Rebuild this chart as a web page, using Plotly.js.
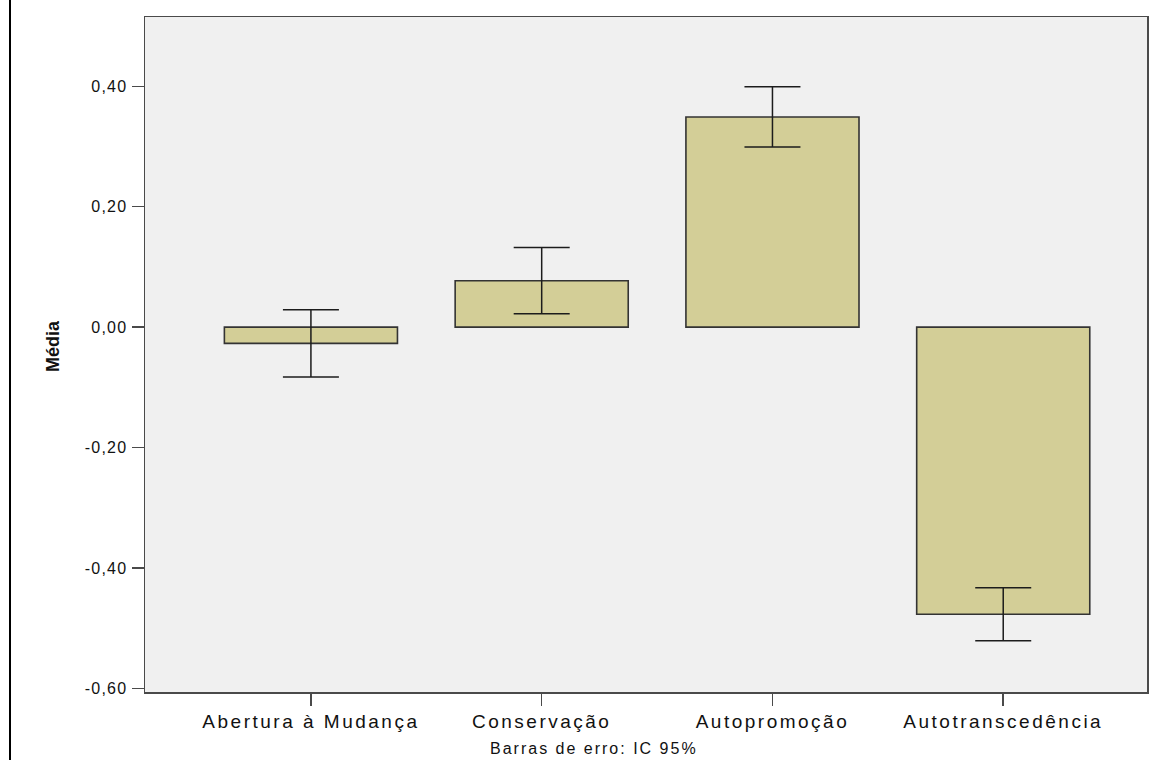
<!DOCTYPE html>
<html>
<head>
<meta charset="utf-8">
<script src="https://cdn.plot.ly/plotly-3.0.1.min.js"></script>
<style>
  html, body { margin: 0; padding: 0; background: #ffffff; }
  #chart { width: 1175px; height: 760px; }
  /* SPSS-style widely spaced axis labels */
  .xtick text { letter-spacing: 2.5px; }
  .ytick text { letter-spacing: 1.2px; }
  .note-text text { letter-spacing: 2px; }
</style>
</head>
<body>
<div id="chart"></div>
<script>
// Value dimensions and their mean scores
const categories = ['Abertura à Mudança', 'Conservação', 'Autopromoção', 'Autotranscedência'];
const means = [-0.027, 0.077, 0.349, -0.477];
// Half-width of the 95% confidence interval
const ciHalf = [0.056, 0.055, 0.050, 0.044];

const yTickVals = [-0.6, -0.4, -0.2, 0.0, 0.2, 0.4];
const yTickText = ['-0,60', '-0,40', '-0,20', '0,00', '0,20', '0,40'];

const trace = {
  type: 'bar',
  x: categories,
  y: means,
  width: 0.75,
  marker: {
    color: '#D3CE97',
    line: { color: '#333333', width: 1.6 }
  },
  error_y: {
    type: 'data',
    array: ciHalf,
    visible: true,
    color: '#1c1c1c',
    thickness: 1.5,
    width: 28
  },
  hoverinfo: 'x+y'
};

const axisLine = { showline: true, mirror: true, linecolor: '#4a4a4a', linewidth: 1.5 };

const layout = {
  width: 1175,
  height: 760,
  margin: { l: 145, r: 28, t: 17, b: 68 },
  paper_bgcolor: '#ffffff',
  plot_bgcolor: '#F0F0F0',
  showlegend: false,
  font: { family: 'Liberation Sans, Arial, sans-serif', color: '#111111' },
  xaxis: Object.assign({
    type: 'category',
    range: [-0.719, 3.623],
    ticks: 'outside',
    ticklen: 12,
    tickwidth: 1.5,
    tickcolor: '#4a4a4a',
    tickfont: { size: 19, color: '#111111' },
    showgrid: false,
    zeroline: false,
    fixedrange: true
  }, axisLine),
  yaxis: Object.assign({
    range: [-0.606, 0.515],
    tickvals: yTickVals,
    ticktext: yTickText,
    ticks: 'outside',
    ticklen: 12,
    tickwidth: 1.5,
    tickcolor: '#4a4a4a',
    tickfont: { size: 16, color: '#111111' },
    ticklabelstandoff: 1,
    showgrid: false,
    zeroline: false,
    fixedrange: true
  }, axisLine),
  annotations: [
    {
      text: '<b>Média</b>',
      xref: 'paper', yref: 'paper',
      x: (53 - 145) / 1002, y: (692 - 346) / 675,
      xanchor: 'center', yanchor: 'middle',
      textangle: -90,
      showarrow: false,
      font: { size: 18, color: '#111111' }
    },
    {
      text: 'Barras de erro: IC 95%',
      xref: 'paper', yref: 'paper',
      x: (594 - 145) / 1002, y: (692 - 748) / 675,
      xanchor: 'center', yanchor: 'middle',
      showarrow: false,
      font: { size: 16, color: '#111111' }
    }
  ],
  shapes: [
    {
      type: 'line',
      xref: 'paper', yref: 'paper',
      x0: (10 - 145) / 1002, x1: (10 - 145) / 1002,
      y0: (692 - 0) / 675, y1: (692 - 760) / 675,
      line: { color: '#000000', width: 2 }
    }
  ]
};

Plotly.newPlot('chart', [trace], layout, { displayModeBar: false, staticPlot: true }).then(function () {
  // tag the footnote annotation so its spacing style applies
  const anns = document.querySelectorAll('.annotation');
  if (anns.length > 1) anns[1].classList.add('note-text');
});
</script>
</body>
</html>
